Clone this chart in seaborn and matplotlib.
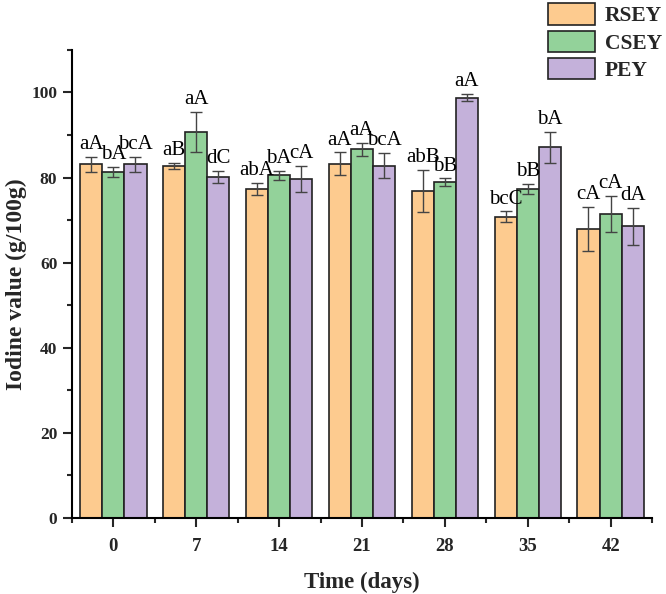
import numpy as np
import pandas as pd
import matplotlib
matplotlib.use('Agg')
import matplotlib.pyplot as plt
import seaborn as sns
from matplotlib.ticker import MultipleLocator

# data
days = ['0', '7', '14', '21', '28', '35', '42']
groups = ['RSEY', 'CSEY', 'PEY']
rsey = [83.1, 82.7, 77.3, 83.3, 76.9, 70.8, 67.9]
csey = [81.3, 90.7, 80.5, 86.6, 78.9, 77.3, 71.4]
pey = [83.1, 80.2, 79.7, 82.8, 98.8, 87.1, 68.5]
rsey_err = [1.8, 0.8, 1.45, 2.6, 4.9, 1.25, 5.2]
csey_err = [1.25, 4.8, 1.1, 1.5, 0.9, 1.25, 4.2]
pey_err = [1.8, 1.4, 3.1, 3.0, 0.9, 3.7, 4.4]
rsey_lbl = ['aA', 'aB', 'abA', 'aA', 'abB', 'bcC', 'cA']
csey_lbl = ['bA', 'aA', 'bA', 'aA', 'bB', 'bB', 'cA']
pey_lbl = ['bcA', 'dC', 'cA', 'bcA', 'aA', 'bA', 'dA']

colors = ['#FDCB8F', '#93D29A', '#C4B1DA']

df = pd.DataFrame({
    'day': days * 3,
    'group': np.repeat(groups, len(days)),
    'value': rsey + csey + pey,
})
errs = [rsey_err, csey_err, pey_err]
lbls = [rsey_lbl, csey_lbl, pey_lbl]

sns.set_theme(style='ticks')
plt.rcParams['font.family'] = ['Liberation Serif', 'DejaVu Serif']

fig = plt.figure(figsize=(6.66, 5.94), dpi=100)
ax = fig.add_axes([0.108, 0.128, 0.871, 0.788])

sns.barplot(data=df, x='day', y='value', hue='group', order=days, hue_order=groups,
            palette=colors, edgecolor='#222222', linewidth=1.2, width=0.8,
            errorbar=None, saturation=1, ax=ax)

# error bars + significance letters
bar_conts = list(ax.containers)
for k, cont in enumerate(bar_conts):
    for j, p in enumerate(cont.patches):
        xc = p.get_x() + p.get_width() / 2
        h = p.get_height()
        ax.errorbar(xc, h, yerr=errs[k][j], fmt='none', ecolor='#444444',
                    elinewidth=1.0, capsize=4, capthick=1.0, zorder=5)
        ax.annotate(lbls[k][j], (xc, h + errs[k][j]), xytext=(0, 2),
                    textcoords='offset points', ha='center', va='bottom',
                    fontsize=15, color='black')

ax.set_xlim(-0.5, 6.5)
ax.set_ylim(0, 110)
ax.set_yticks([0, 20, 40, 60, 80, 100])
ax.yaxis.set_minor_locator(MultipleLocator(10))
ax.set_xticks(range(len(days)))
ax.set_xticks(np.arange(-0.5, 6.6, 1), minor=True)
ax.tick_params(axis='both', which='major', length=6.5, width=1.5)
ax.tick_params(axis='both', which='minor', length=3.5, width=1.5)
ax.tick_params(axis='x', which='major', labelsize=13.5, pad=8)
ax.tick_params(axis='y', which='major', labelsize=12.5, pad=4)
for lab in ax.get_xticklabels() + ax.get_yticklabels():
    lab.set_fontweight('bold')

for s in ['top', 'right']:
    ax.spines[s].set_visible(False)
for s in ['left', 'bottom']:
    ax.spines[s].set_linewidth(1.5)
    ax.spines[s].set_color('black')

ax.set_xlabel('Time (days)', fontsize=16.5, fontweight='bold', labelpad=12)
ax.set_ylabel('Iodine value (g/100g)', fontsize=17, fontweight='bold', labelpad=3)

ax.legend(loc='upper right', bbox_to_anchor=(0.997, 0.998), bbox_transform=fig.transFigure,
          frameon=False, handlelength=2.2, handleheight=1.15, labelspacing=0.2,
          handletextpad=0.45, borderpad=0.1, borderaxespad=0,
          prop={'size': 15.5, 'weight': 'bold'})

fig.savefig('out.png', dpi=100)
